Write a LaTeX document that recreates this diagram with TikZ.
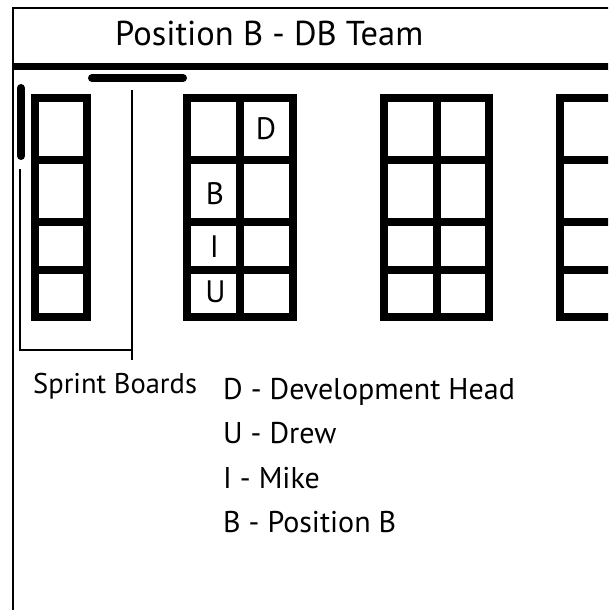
\documentclass[tikz,border=0pt]{standalone}
\usepackage{fontspec}
\setmainfont{PT Sans}

\begin{document}
\begin{tikzpicture}[x=1pt,y=-1pt,
  frame/.style={line width=1.3pt},
  thin/.style={line width=1.3pt},
  bar/.style={line width=8pt, line cap=round},
  board/.style={line width=7.5pt, line join=miter},
  big/.style={inner sep=0pt, anchor=base west, font=\fontsize{34.5}{40}\selectfont},
  legend/.style={inner sep=0pt, anchor=base west, font=\fontsize{30}{36}\selectfont},
  cell/.style={inner sep=0pt, font=\fontsize{31}{36}\selectfont}]
\useasboundingbox (0,0) rectangle (608,610);
\clip (0,0) rectangle (608,610);
\fill[white] (0,0) rectangle (608,610);
% frame and header
\draw[frame] (13,620) -- (13,8) -- (620,8);
\draw[line width=7pt] (13,66.5) -- (620,66.5);
\node[big] (title) at (115,46) {Position B - DB Team};
% markers
\draw[bar] (92,78) -- (183,78);
\draw[bar] (21,88) -- (21,156);
\draw[thin] (20,169) -- (20,350) -- (132,350);
\draw[thin] (132,90) -- (132,360);
% board 1
\draw[board] (35,98) rectangle (87,317);
\draw[board] (35,160) -- (87,160);
\draw[board] (35,222) -- (87,222);
\draw[board] (35,270) -- (87,270);
% board 2
\draw[board] (187,98) rectangle (293,317);
\draw[board] (240,98) -- (240,317);
\draw[board] (187,160) -- (293,160);
\draw[board] (187,222) -- (293,222);
\draw[board] (187,270) -- (293,270);
\node[cell] (d) at (266,129) {D};
\node[cell] (b) at (215,193.5) {B};
\node[cell] (i) at (214.5,247) {I};
\node[cell] (u) at (215.5,291.5) {U};
% board 3
\draw[board] (384,98) rectangle (489,317);
\draw[board] (437,98) -- (437,317);
\draw[board] (384,160) -- (489,160);
\draw[board] (384,222) -- (489,222);
\draw[board] (384,270) -- (489,270);
% board 4
\draw[board] (560,98) rectangle (665,317);
\draw[board] (560,160) -- (665,160);
\draw[board] (560,222) -- (665,222);
\draw[board] (560,270) -- (665,270);
% labels
\node[legend, font=\fontsize{28.5}{34}\selectfont] (sprint) at (33,393) {Sprint Boards};
\node[legend] (keyd) at (223,399) {D - Development Head};
\node[legend] (keyu) at (223,443) {U - Drew};
\node[legend] (keyi) at (223,488) {I - Mike};
\node[legend] (keyb) at (223,532) {B - Position B};
\end{tikzpicture}
\end{document}
